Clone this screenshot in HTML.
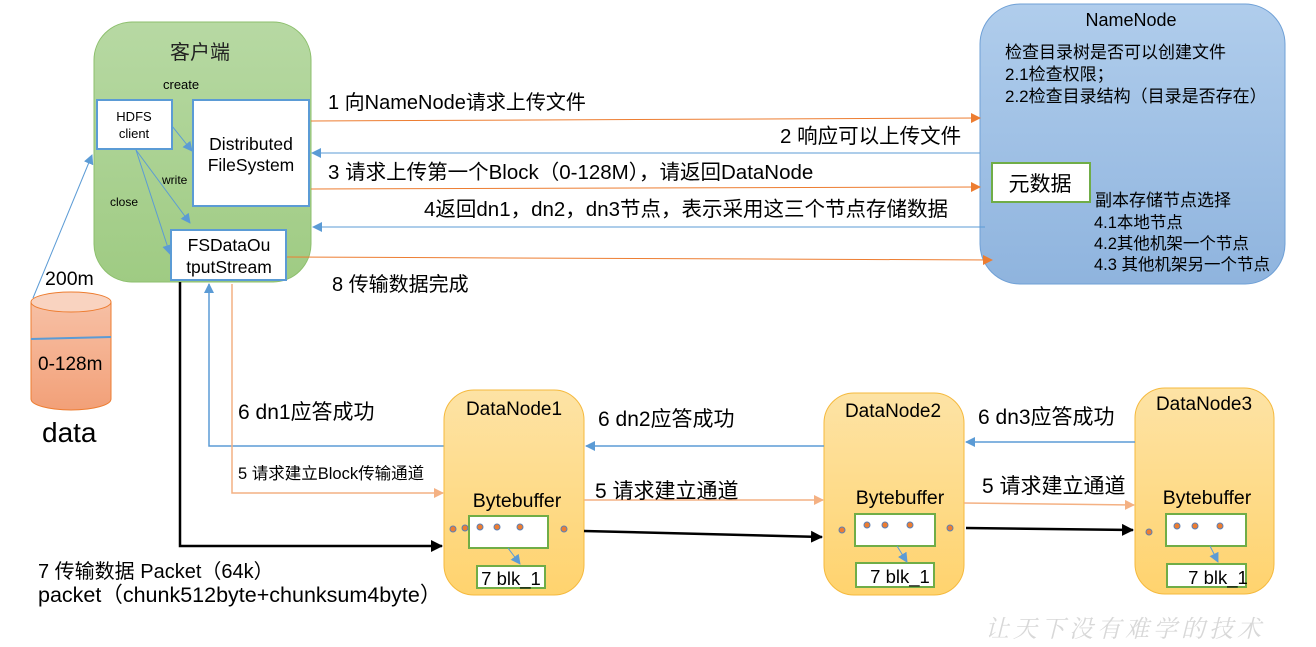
<!DOCTYPE html>
<html><head><meta charset="utf-8"><style>
html,body{margin:0;padding:0;background:#fff;}
svg{display:block;font-family:"Liberation Sans","Noto Sans CJK SC",sans-serif;}
</style></head><body>
<svg width="1316" height="647" viewBox="0 0 1316 647" xmlns="http://www.w3.org/2000/svg">
<defs>
<linearGradient id="gg" x1="0" y1="0" x2="0" y2="1"><stop offset="0" stop-color="#b7d9a3"/><stop offset="1" stop-color="#9fcb83"/></linearGradient>
<linearGradient id="bg" x1="0" y1="0" x2="0" y2="1"><stop offset="0" stop-color="#b0cdec"/><stop offset="1" stop-color="#8fb4de"/></linearGradient>
<linearGradient id="og" x1="0" y1="0" x2="0" y2="1"><stop offset="0" stop-color="#fde3a5"/><stop offset="1" stop-color="#ffd36e"/></linearGradient>
<linearGradient id="cg" x1="0" y1="0" x2="0" y2="1"><stop offset="0" stop-color="#f7c0a5"/><stop offset="1" stop-color="#f2a078"/></linearGradient>
<marker id="ao" markerWidth="10" markerHeight="10" refX="9" refY="5" orient="auto" markerUnits="userSpaceOnUse"><path d="M0,0 L10,5 L0,10z" fill="#ed7d31"/></marker>
<marker id="al" markerWidth="10" markerHeight="10" refX="9" refY="5" orient="auto" markerUnits="userSpaceOnUse"><path d="M0,0 L10,5 L0,10z" fill="#f4b183"/></marker>
<marker id="ab" markerWidth="10" markerHeight="10" refX="9" refY="5" orient="auto" markerUnits="userSpaceOnUse"><path d="M0,0 L10,5 L0,10z" fill="#5b9bd5"/></marker>
<marker id="ak" markerWidth="12" markerHeight="12" refX="11" refY="6" orient="auto" markerUnits="userSpaceOnUse"><path d="M0,0 L12,6 L0,12z" fill="#000"/></marker>
</defs>

<rect x="94" y="22" width="217" height="260" rx="38" fill="url(#gg)" stroke="#8cbf6c"/>
<text x="200" y="59" font-size="20" text-anchor="middle" fill="#222">客户端</text>
<text x="163" y="89" font-size="13">create</text>
<text x="162" y="184" font-size="12">write</text>
<text x="110" y="206" font-size="12">close</text>
<rect x="97" y="100" width="75" height="49" fill="#fff" stroke="#5b9bd5" stroke-width="2"/>
<text x="134" y="121" font-size="13" text-anchor="middle">HDFS</text>
<text x="134" y="138" font-size="13" text-anchor="middle">client</text>
<rect x="193" y="100" width="116" height="106" fill="#fff" stroke="#5b9bd5" stroke-width="2"/>
<text x="251" y="150" font-size="17.5" text-anchor="middle">Distributed</text>
<text x="251" y="171" font-size="17.5" text-anchor="middle">FileSystem</text>
<rect x="171" y="230" width="115" height="50" fill="#fff" stroke="#5b9bd5" stroke-width="2"/>
<text x="229" y="251" font-size="17.5" text-anchor="middle">FSDataOu</text>
<text x="229" y="273" font-size="17.5" text-anchor="middle">tputStream</text>
<line x1="172" y1="126" x2="192" y2="151" stroke="#5b9bd5" marker-end="url(#ab)"/>
<line x1="136" y1="150" x2="190" y2="223" stroke="#5b9bd5" marker-end="url(#ab)"/>
<line x1="136" y1="150" x2="170" y2="254" stroke="#5b9bd5" marker-end="url(#ab)"/>

<rect x="980" y="4" width="305" height="280" rx="40" fill="url(#bg)" stroke="#6fa0d6"/>
<text x="1131" y="26" font-size="18" text-anchor="middle">NameNode</text>
<text x="1005" y="58" font-size="17">检查目录树是否可以创建文件</text>
<text x="1005" y="80" font-size="17">2.1检查权限；</text>
<text x="1005" y="102" font-size="17">2.2检查目录结构（目录是否存在）</text>
<rect x="992" y="163" width="98" height="39" fill="#fff" stroke="#70ad47" stroke-width="2"/>
<text x="1040" y="191" font-size="21" text-anchor="middle">元数据</text>
<text x="1095" y="206" font-size="17">副本存储节点选择</text>
<text x="1094" y="228" font-size="16.5">4.1本地节点</text>
<text x="1094" y="249" font-size="16.5">4.2其他机架一个节点</text>
<text x="1094" y="270" font-size="16.5">4.3 其他机架另一个节点</text>

<line x1="311" y1="121" x2="980" y2="118" stroke="#ed7d31" marker-end="url(#ao)"/>
<text x="328" y="109" font-size="20">1 向NameNode请求上传文件</text>
<line x1="980" y1="153" x2="312" y2="153" stroke="#5b9bd5" marker-end="url(#ab)"/>
<text x="780" y="143" font-size="20.5">2 响应可以上传文件</text>
<line x1="311" y1="189" x2="980" y2="187" stroke="#ed7d31" marker-end="url(#ao)"/>
<text x="328" y="179" font-size="20.5">3 请求上传第一个Block（0-128M），请返回DataNode</text>
<line x1="985" y1="227" x2="313" y2="227" stroke="#5b9bd5" marker-end="url(#ab)"/>
<text x="424" y="216" font-size="20.5">4返回dn1，dn2，dn3节点，表示采用这三个节点存储数据</text>
<line x1="287" y1="257" x2="992" y2="260" stroke="#ed7d31" marker-end="url(#ao)"/>
<text x="332" y="291" font-size="20">8 传输数据完成</text>

<path d="M31,302 L31,399 A40,11 0 0 0 111,399 L111,302" fill="url(#cg)" stroke="#ed7d31"/>
<ellipse cx="71" cy="302" rx="40" ry="10" fill="#f9d3c0" stroke="#ed7d31"/>
<line x1="31" y1="339" x2="111" y2="337" stroke="#5b9bd5" stroke-width="2"/>
<text x="38" y="370" font-size="19">0-128m</text>
<text x="45" y="285" font-size="19.5">200m</text>
<text x="42" y="442" font-size="28">data</text>
<line x1="33" y1="298" x2="92" y2="155" stroke="#5b9bd5" marker-end="url(#ab)"/>

<polyline points="180,282 180,546 442,546" fill="none" stroke="#000" stroke-width="2.5" marker-end="url(#ak)"/>
<polyline points="444,446 209,446 209,284" fill="none" stroke="#5b9bd5" stroke-width="1.5" marker-end="url(#ab)"/>
<polyline points="232,284 232,493 443,493" fill="none" stroke="#f4b183" stroke-width="1.5" marker-end="url(#al)"/>
<text x="238" y="419" font-size="21">6 dn1应答成功</text>
<text x="238" y="479" font-size="16.5">5 请求建立Block传输通道</text>
<text x="38" y="578" font-size="20">7 传输数据  Packet（64k）</text>
<text x="38" y="602" font-size="21.5">packet（chunk512byte+chunksum4byte）</text>

<g>
<rect x="444" y="390" width="140" height="205" rx="30" fill="url(#og)" stroke="#f5b93d"/>
<text x="514" y="415" font-size="19" text-anchor="middle">DataNode1</text>
<text x="517" y="507" font-size="19.5" text-anchor="middle">Bytebuffer</text>
<rect x="469" y="516" width="79" height="32" fill="#fff" stroke="#70ad47" stroke-width="2"/>
<rect x="477" y="566" width="68" height="22" fill="#fff" stroke="#70ad47" stroke-width="2"/>
<text x="511" y="585" font-size="18.5" text-anchor="middle">7 blk_1</text>
<line x1="508" y1="548" x2="520" y2="564" stroke="#5b9bd5" marker-end="url(#ab)"/>
<g fill="#ed7d31" stroke="#5b7fb5" stroke-width="1"><circle cx="453" cy="529" r="3"/><circle cx="465" cy="528" r="3"/><circle cx="480" cy="527" r="3"/><circle cx="497" cy="527" r="3"/><circle cx="520" cy="527" r="3"/><circle cx="564" cy="529" r="3"/></g>
</g>
<g>
<rect x="824" y="393" width="140" height="202" rx="30" fill="url(#og)" stroke="#f5b93d"/>
<text x="893" y="417" font-size="19" text-anchor="middle">DataNode2</text>
<text x="900" y="504" font-size="19.5" text-anchor="middle">Bytebuffer</text>
<rect x="855" y="514" width="80" height="32" fill="#fff" stroke="#70ad47" stroke-width="2"/>
<rect x="856" y="563" width="78" height="24" fill="#fff" stroke="#70ad47" stroke-width="2"/>
<text x="900" y="583" font-size="18.5" text-anchor="middle">7 blk_1</text>
<line x1="897" y1="546" x2="907" y2="562" stroke="#5b9bd5" marker-end="url(#ab)"/>
<g fill="#ed7d31" stroke="#5b7fb5" stroke-width="1"><circle cx="842" cy="530" r="3"/><circle cx="867" cy="525" r="3"/><circle cx="885" cy="525" r="3"/><circle cx="910" cy="525" r="3"/><circle cx="950" cy="528" r="3"/></g>
</g>
<g>
<rect x="1135" y="388" width="139" height="206" rx="30" fill="url(#og)" stroke="#f5b93d"/>
<text x="1204" y="410" font-size="19" text-anchor="middle">DataNode3</text>
<text x="1207" y="504" font-size="19.5" text-anchor="middle">Bytebuffer</text>
<rect x="1166" y="514" width="80" height="32" fill="#fff" stroke="#70ad47" stroke-width="2"/>
<rect x="1167" y="564" width="79" height="23" fill="#fff" stroke="#70ad47" stroke-width="2"/>
<text x="1218" y="584" font-size="18.5" text-anchor="middle">7 blk_1</text>
<line x1="1210" y1="546" x2="1218" y2="562" stroke="#5b9bd5" marker-end="url(#ab)"/>
<g fill="#ed7d31" stroke="#5b7fb5" stroke-width="1"><circle cx="1149" cy="532" r="3"/><circle cx="1177" cy="526" r="3"/><circle cx="1195" cy="526" r="3"/><circle cx="1220" cy="526" r="3"/></g>
</g>

<line x1="824" y1="446" x2="586" y2="446" stroke="#5b9bd5" stroke-width="1.5" marker-end="url(#ab)"/>
<text x="598" y="426" font-size="21">6 dn2应答成功</text>
<line x1="584" y1="500" x2="823" y2="500" stroke="#f4b183" stroke-width="1.5" marker-end="url(#al)"/>
<text x="595" y="498" font-size="21">5 请求建立通道</text>
<line x1="584" y1="531" x2="822" y2="537" stroke="#000" stroke-width="2.5" marker-end="url(#ak)"/>
<line x1="1135" y1="442" x2="966" y2="442" stroke="#5b9bd5" stroke-width="1.5" marker-end="url(#ab)"/>
<text x="978" y="424" font-size="21">6 dn3应答成功</text>
<line x1="964" y1="503" x2="1134" y2="505" stroke="#f4b183" stroke-width="1.5" marker-end="url(#al)"/>
<text x="982" y="493" font-size="21">5 请求建立通道</text>
<line x1="966" y1="528" x2="1133" y2="530" stroke="#000" stroke-width="2.5" marker-end="url(#ak)"/>

<text x="985" y="637" font-size="24" fill="#d8d8d8" font-family="'Noto Serif CJK SC',serif" letter-spacing="4" font-style="italic">让天下没有难学的技术</text>
</svg>
</body></html>
